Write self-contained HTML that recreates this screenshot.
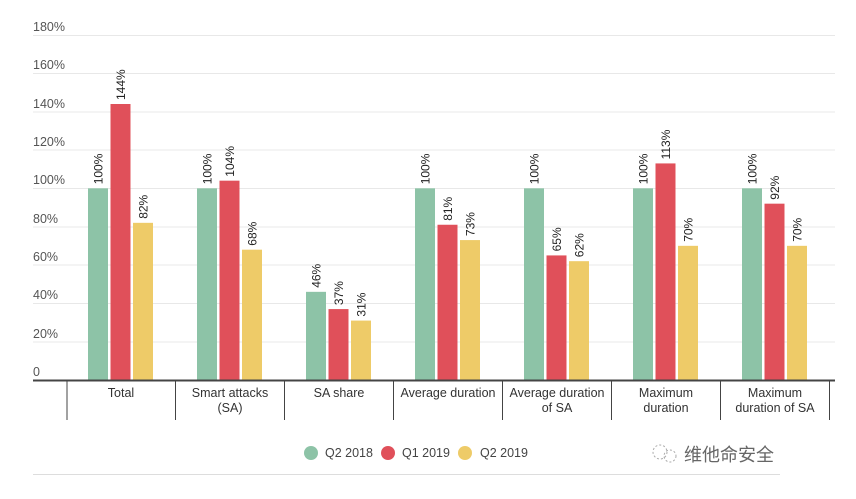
<!DOCTYPE html>
<html><head><meta charset="utf-8"><style>
body{margin:0;background:#fff;width:856px;height:494px;overflow:hidden}
svg{font-family:"Liberation Sans","Noto Sans CJK SC",sans-serif}
</style></head><body>
<svg width="856" height="494" xmlns="http://www.w3.org/2000/svg">
<g stroke="#e8e8e8" stroke-width="1">
<line x1="33" x2="835" y1="35.5" y2="35.5"/><line x1="33" x2="835" y1="73.5" y2="73.5"/><line x1="33" x2="835" y1="112" y2="112"/><line x1="33" x2="835" y1="150" y2="150"/><line x1="33" x2="835" y1="188.5" y2="188.5"/><line x1="33" x2="835" y1="227" y2="227"/><line x1="33" x2="835" y1="265" y2="265"/><line x1="33" x2="835" y1="303.5" y2="303.5"/><line x1="33" x2="835" y1="342" y2="342"/>
</g>
<g font-size="12.5" fill="#555">
<text x="33" y="31">180%</text><text x="33" y="69">160%</text><text x="33" y="108">140%</text><text x="33" y="146">120%</text><text x="33" y="184">100%</text><text x="33" y="223">80%</text><text x="33" y="261">60%</text><text x="33" y="299">40%</text><text x="33" y="338">20%</text><text x="33" y="376">0</text>
</g>
<g>
<rect x="88" y="188.33" width="20" height="191.67" fill="#8dc3a7"/>
<rect x="110.5" y="104" width="20" height="276" fill="#e0505a"/>
<rect x="133" y="222.83" width="20" height="157.17" fill="#eecb68"/>
<rect x="197" y="188.33" width="20" height="191.67" fill="#8dc3a7"/>
<rect x="219.5" y="180.67" width="20" height="199.33" fill="#e0505a"/>
<rect x="242" y="249.67" width="20" height="130.33" fill="#eecb68"/>
<rect x="306" y="291.83" width="20" height="88.17" fill="#8dc3a7"/>
<rect x="328.5" y="309.08" width="20" height="70.92" fill="#e0505a"/>
<rect x="351" y="320.58" width="20" height="59.42" fill="#eecb68"/>
<rect x="415" y="188.33" width="20" height="191.67" fill="#8dc3a7"/>
<rect x="437.5" y="224.75" width="20" height="155.25" fill="#e0505a"/>
<rect x="460" y="240.08" width="20" height="139.92" fill="#eecb68"/>
<rect x="524" y="188.33" width="20" height="191.67" fill="#8dc3a7"/>
<rect x="546.5" y="255.42" width="20" height="124.58" fill="#e0505a"/>
<rect x="569" y="261.17" width="20" height="118.83" fill="#eecb68"/>
<rect x="633" y="188.33" width="20" height="191.67" fill="#8dc3a7"/>
<rect x="655.5" y="163.42" width="20" height="216.58" fill="#e0505a"/>
<rect x="678" y="245.83" width="20" height="134.17" fill="#eecb68"/>
<rect x="742" y="188.33" width="20" height="191.67" fill="#8dc3a7"/>
<rect x="764.5" y="203.67" width="20" height="176.33" fill="#e0505a"/>
<rect x="787" y="245.83" width="20" height="134.17" fill="#eecb68"/>
</g>
<g font-size="12" fill="#222">
<text transform="translate(102.5,184.3) rotate(-90)">100%</text>
<text transform="translate(125,100) rotate(-90)">144%</text>
<text transform="translate(147.5,218.8) rotate(-90)">82%</text>
<text transform="translate(211.5,184.3) rotate(-90)">100%</text>
<text transform="translate(234,176.7) rotate(-90)">104%</text>
<text transform="translate(256.5,245.7) rotate(-90)">68%</text>
<text transform="translate(320.5,287.8) rotate(-90)">46%</text>
<text transform="translate(343,305.1) rotate(-90)">37%</text>
<text transform="translate(365.5,316.6) rotate(-90)">31%</text>
<text transform="translate(429.5,184.3) rotate(-90)">100%</text>
<text transform="translate(452,220.8) rotate(-90)">81%</text>
<text transform="translate(474.5,236.1) rotate(-90)">73%</text>
<text transform="translate(538.5,184.3) rotate(-90)">100%</text>
<text transform="translate(561,251.4) rotate(-90)">65%</text>
<text transform="translate(583.5,257.2) rotate(-90)">62%</text>
<text transform="translate(647.5,184.3) rotate(-90)">100%</text>
<text transform="translate(670,159.4) rotate(-90)">113%</text>
<text transform="translate(692.5,241.8) rotate(-90)">70%</text>
<text transform="translate(756.5,184.3) rotate(-90)">100%</text>
<text transform="translate(779,199.7) rotate(-90)">92%</text>
<text transform="translate(801.5,241.8) rotate(-90)">70%</text>
</g>
<line x1="33" x2="835" y1="380.5" y2="380.5" stroke="#444" stroke-width="2"/>
<g stroke="#444" stroke-width="1">
<line x1="67" x2="67" y1="380" y2="420"/><line x1="175.5" x2="175.5" y1="380" y2="420"/><line x1="284.5" x2="284.5" y1="380" y2="420"/><line x1="393.5" x2="393.5" y1="380" y2="420"/><line x1="502.5" x2="502.5" y1="380" y2="420"/><line x1="611.5" x2="611.5" y1="380" y2="420"/><line x1="720.5" x2="720.5" y1="380" y2="420"/><line x1="829.5" x2="829.5" y1="380" y2="420"/>
</g>
<g font-size="12.5" fill="#333" text-anchor="middle">
<text x="121" y="397">Total</text>
<text x="230" y="397">Smart attacks</text><text x="230" y="412">(SA)</text>
<text x="339" y="397">SA share</text>
<text x="448" y="397">Average duration</text>
<text x="557" y="397">Average duration</text><text x="557" y="412">of SA</text>
<text x="666" y="397">Maximum</text><text x="666" y="412">duration</text>
<text x="775" y="397">Maximum</text><text x="775" y="412">duration of SA</text>
</g>
<circle cx="311" cy="453" r="7" fill="#8dc3a7"/><text x="325" y="457" font-size="12.5" fill="#444">Q2 2018</text>
<circle cx="388" cy="453" r="7" fill="#e0505a"/><text x="402" y="457" font-size="12.5" fill="#444">Q1 2019</text>
<circle cx="465" cy="453" r="7" fill="#eecb68"/><text x="480" y="457" font-size="12.5" fill="#444">Q2 2019</text>
<line x1="33" x2="780" y1="474.5" y2="474.5" stroke="#ddd"/>
<circle cx="660" cy="452" r="7" fill="none" stroke="#aaa" stroke-dasharray="2 2"/>
<circle cx="670" cy="456" r="6" fill="none" stroke="#aaa" stroke-dasharray="2 2"/>
<text x="684" y="461" font-size="18" fill="#666">维他命安全</text>
</svg>
</body></html>
